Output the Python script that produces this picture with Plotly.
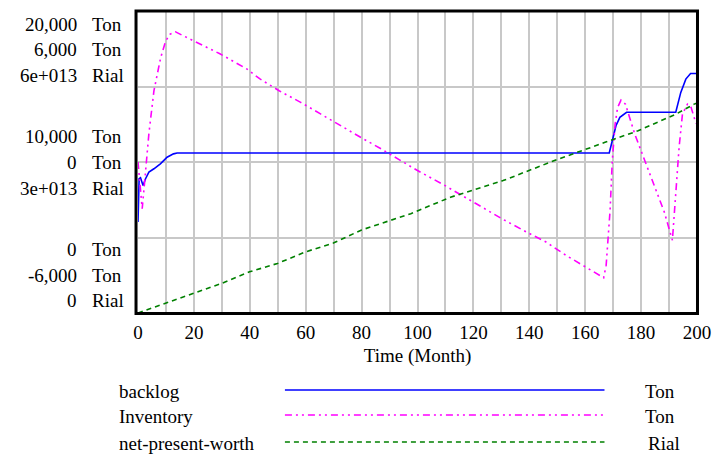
import plotly.graph_objects as go

# --- series data (Time in months) ---
backlog_t = [0, 0.4, 0.9, 1.8, 2.7, 3.9, 5.7, 8, 10.4, 12.7, 14, 168.6, 170, 171,
             172.4, 174.8, 192.4, 194.2, 196, 197.7, 200]
backlog = [6030, 8890, 8960, 8450, 8890, 9330, 9550, 9880, 10320, 10540, 10600, 10600,
           11640, 12400, 12960, 13290, 13290, 14610, 15490, 15860, 15860]

inventory_t = [0, 0.5, 1.5, 2.1, 2.7, 3.3, 3.9, 5.7, 8.1, 9.9, 11.5, 13.4, 15, 21.2,
               29.3, 38.9, 43.5, 50.5, 58.2, 65.3, 72.3, 80, 87, 94.1, 100, 108.8,
               115.9, 123.6, 130.6, 138.3, 146, 153, 160, 166.6, 167.5, 168.3, 168.9,
               169.7, 170.7, 171.6, 172.8, 174.4, 177.7, 181.3, 184.8, 188.3, 191.2,
               192.4, 193.6, 194.8, 196.6, 197.7, 199.5, 200]
inventory = [0, -700, -1850, -1130, -400, 330, 1130, 2830, 4140, 4810, 5080, 5170,
             5080, 4730, 4300, 3700, 3310, 2830, 2370, 1910, 1450, 960, 520, 60, -340,
             -870, -1330, -1860, -2280, -2740, -3180, -3700, -4170, -4600, -4100,
             -2900, -1920, 60, 1510, 2170, 2460, 2300, 1120, 60, -1000, -1990, -3110,
             -1260, 590, 1910, 2300, 2240, 1580, 1500]

npw_t = [0, 9.3, 19.9, 29.9, 39.9, 49.9, 59.9, 69.9, 80, 97.6, 111.8, 130.6, 150,
         163.6, 167.1, 178.9, 192.4, 199, 200]
npw = [0, 0.178e13, 0.39e13, 0.588e13, 0.818e13, 0.984e13, 1.214e13, 1.39e13,
       1.65e13, 1.974e13, 2.30e13, 2.63e13, 3.05e13, 3.33e13, 3.39e13, 3.62e13,
       3.95e13, 4.15e13, 4.17e13]

# stacked scale labels on the left: (backlog, inventory, npw) per gridline
scale_rows = [
    (["20,000", "6,000", "6e+013"], ["Ton", "Ton", "Rial"]),
    (["10,000", "0", "3e+013"], ["Ton", "Ton", "Rial"]),
    (["0", "-6,000", "0"], ["Ton", "Ton", "Rial"]),
]

legend_names = ["backlog", "Inventory", "net-present-worth"]
legend_units = ["Ton", "Ton", "Rial"]

FONT = "Liberation Serif"
BLUE = "#0000ff"
MAGENTA = "#ff00ff"
GREEN = "#008000"
DASH_INV = "7px,4px,2px,4px,2px,4px"
DASH_NPW = "5px,4px"

W, H = 722, 458
L, R, T, B = 137.5, 702.5, 11, 313  # plot area in pixels


def px_x(px):
    return (px - L) / (R - L)


def px_y(py):
    return (B - py) / (B - T)


def txt(text, x, y, anchor):
    return dict(x=px_x(x), y=px_y(y), xref="paper", yref="paper", text=text,
                showarrow=False, xanchor=anchor, yanchor="middle",
                font=dict(family=FONT, size=19, color="black"))


fig = go.Figure()
fig.add_trace(go.Scatter(x=backlog_t, y=backlog, mode="lines", name="backlog",
                         line=dict(color=BLUE, width=1.6), yaxis="y"))
fig.add_trace(go.Scatter(x=inventory_t, y=inventory, mode="lines", name="Inventory",
                         line=dict(color=MAGENTA, width=1.6, dash=DASH_INV), yaxis="y2"))
fig.add_trace(go.Scatter(x=npw_t, y=npw, mode="lines", name="net-present-worth",
                         line=dict(color=GREEN, width=1.6, dash=DASH_NPW), yaxis="y3"))

annotations = []
# left-hand stacked scale labels
group_centers = [[24, 49.7, 75.5], [136, 162, 188], [249.7, 275, 300]]
for (nums, units), ys in zip(scale_rows, group_centers):
    for n, u, py in zip(nums, units, ys):
        annotations.append(txt(n, 78, py, "right"))
        annotations.append(txt(u, 89, py, "left"))

# legend block below the axis
shapes = []
leg_y = [390, 415, 442]
leg_styles = [(BLUE, "solid"), (MAGENTA, DASH_INV), (GREEN, DASH_NPW)]
unit_x = [648, 648, 651]
for name, unit, py, (col, dash), ux in zip(legend_names, legend_units, leg_y, leg_styles, unit_x):
    annotations.append(txt(name, 116, py + 1, "left"))
    annotations.append(txt(unit, ux, py + 1, "left"))
    shapes.append(dict(type="line", xref="paper", yref="paper",
                       x0=px_x(286), x1=px_x(609), y0=px_y(py), y1=px_y(py),
                       line=dict(color=col, width=1.6, dash=dash)))

# heavy frame drawn just outside the plot area
shapes.append(dict(type="rect", xref="paper", yref="paper",
                   x0=px_x(135.5), x1=px_x(703), y0=px_y(313.5), y1=px_y(11),
                   line=dict(color="black", width=3), layer="above"))

grid_col = "#c8c8c8"
fig.update_layout(
    width=W, height=H,
    margin=dict(l=L, r=W - R, t=T, b=H - B),
    paper_bgcolor="white", plot_bgcolor="white",
    showlegend=False,
    font=dict(family=FONT, size=19, color="black"),
    xaxis=dict(range=[0, 200], dtick=20, tick0=0, showgrid=True, gridcolor=grid_col,
               gridwidth=1.5, zeroline=False, showline=False, ticks="",
               ticklabelstandoff=6,
               tickfont=dict(family=FONT, size=19, color="black"),
               minor=dict(dtick=10, showgrid=True, gridcolor=grid_col, gridwidth=1.5),
               title=dict(text="Time (Month)", font=dict(family=FONT, size=19, color="black"),
                          standoff=6)),
    yaxis=dict(range=[0, 20000], dtick=5000, showgrid=True, gridcolor=grid_col,
               gridwidth=1.5, zeroline=False, showticklabels=False, ticks=""),
    yaxis2=dict(range=[-6000, 6000], overlaying="y", visible=False, showgrid=False),
    yaxis3=dict(range=[0, 6e13], overlaying="y", visible=False, showgrid=False),
    annotations=annotations,
    shapes=shapes,
)

fig.write_html("out.html")
